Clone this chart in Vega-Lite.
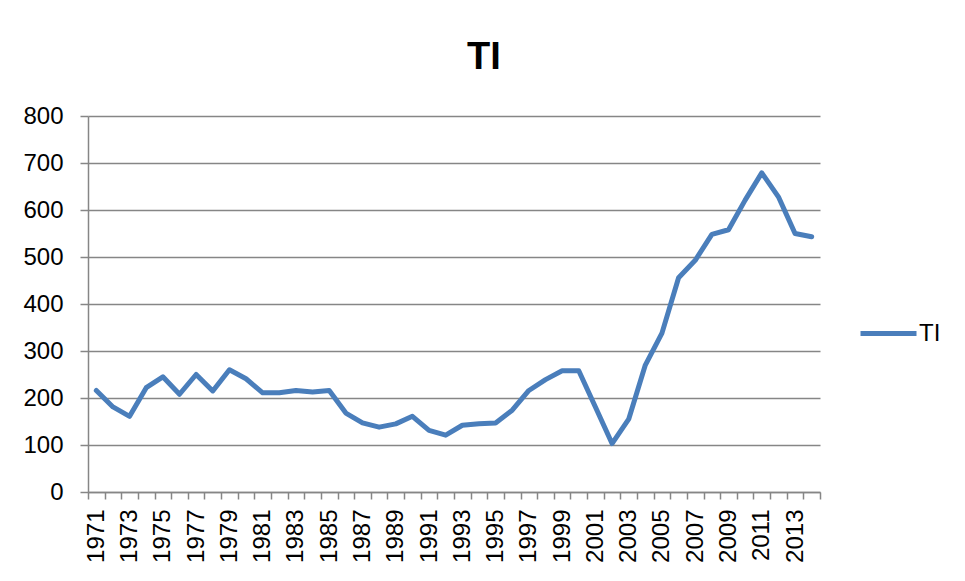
{
  "$schema": "https://vega.github.io/schema/vega-lite/v6.json",
  "width": 732,
  "height": 376,
  "autosize": {"type": "none"},
  "padding": {"left": 88, "top": 116, "right": 145, "bottom": 89},
  "background": "white",
  "title": {
    "text": "TI",
    "font": "Liberation Sans",
    "fontSize": 38,
    "fontWeight": "bold",
    "color": "#000000",
    "anchor": "middle",
    "dx": 30,
    "offset": -11,
    "baseline": "bottom"
  },
  "config": {
    "view": {"stroke": null},
    "axis": {
      "labelFont": "Liberation Sans",
      "labelFontSize": 24,
      "labelColor": "#000000",
      "domainColor": "#868686",
      "tickColor": "#868686",
      "gridColor": "#868686",
      "domainWidth": 1.5,
      "tickWidth": 1.5,
      "gridWidth": 1.5
    }
  },
  "data": {
    "values": [
      {"year": 1971, "value": 216, "series": "TI"},
      {"year": 1972, "value": 181, "series": "TI"},
      {"year": 1973, "value": 161, "series": "TI"},
      {"year": 1974, "value": 222, "series": "TI"},
      {"year": 1975, "value": 245, "series": "TI"},
      {"year": 1976, "value": 208, "series": "TI"},
      {"year": 1977, "value": 250, "series": "TI"},
      {"year": 1978, "value": 215, "series": "TI"},
      {"year": 1979, "value": 260, "series": "TI"},
      {"year": 1980, "value": 241, "series": "TI"},
      {"year": 1981, "value": 211, "series": "TI"},
      {"year": 1982, "value": 211, "series": "TI"},
      {"year": 1983, "value": 216, "series": "TI"},
      {"year": 1984, "value": 213, "series": "TI"},
      {"year": 1985, "value": 216, "series": "TI"},
      {"year": 1986, "value": 168, "series": "TI"},
      {"year": 1987, "value": 147, "series": "TI"},
      {"year": 1988, "value": 138, "series": "TI"},
      {"year": 1989, "value": 145, "series": "TI"},
      {"year": 1990, "value": 161, "series": "TI"},
      {"year": 1991, "value": 131, "series": "TI"},
      {"year": 1992, "value": 121, "series": "TI"},
      {"year": 1993, "value": 142, "series": "TI"},
      {"year": 1994, "value": 145, "series": "TI"},
      {"year": 1995, "value": 147, "series": "TI"},
      {"year": 1996, "value": 174, "series": "TI"},
      {"year": 1997, "value": 216, "series": "TI"},
      {"year": 1998, "value": 239, "series": "TI"},
      {"year": 1999, "value": 258, "series": "TI"},
      {"year": 2000, "value": 258, "series": "TI"},
      {"year": 2001, "value": 181, "series": "TI"},
      {"year": 2002, "value": 103, "series": "TI"},
      {"year": 2003, "value": 155, "series": "TI"},
      {"year": 2004, "value": 270, "series": "TI"},
      {"year": 2005, "value": 338, "series": "TI"},
      {"year": 2006, "value": 456, "series": "TI"},
      {"year": 2007, "value": 493, "series": "TI"},
      {"year": 2008, "value": 548, "series": "TI"},
      {"year": 2009, "value": 558, "series": "TI"},
      {"year": 2010, "value": 621, "series": "TI"},
      {"year": 2011, "value": 679, "series": "TI"},
      {"year": 2012, "value": 628, "series": "TI"},
      {"year": 2013, "value": 550, "series": "TI"},
      {"year": 2014, "value": 543, "series": "TI"}
    ]
  },
  "mark": {"type": "line", "strokeWidth": 5, "strokeJoin": "round", "strokeCap": "round"},
  "encoding": {
    "x": {
      "field": "year",
      "type": "ordinal",
      "scale": {"type": "band", "paddingInner": 0, "paddingOuter": 0},
      "axis": {
        "title": null,
        "labelAngle": 270,
        "labelAlign": "right",
        "labelBaseline": "middle",
        "labelOverlap": false,
        "labelExpr": "datum.value % 2 == 1 ? datum.label : ''",
        "tickBand": "extent",
        "tickSize": 7,
        "labelPadding": 10,
        "grid": false
      }
    },
    "y": {
      "field": "value",
      "type": "quantitative",
      "scale": {"domain": [0, 800], "nice": false},
      "axis": {
        "title": null,
        "values": [0, 100, 200, 300, 400, 500, 600, 700, 800],
        "tickSize": 8,
        "labelPadding": 17,
        "grid": true
      }
    },
    "color": {
      "field": "series",
      "type": "nominal",
      "scale": {"range": ["#4a7ebb"]},
      "legend": {
        "title": null,
        "orient": "none",
        "legendX": 770,
        "legendY": 187,
        "symbolType": "stroke",
        "symbolSize": 3136,
        "symbolStrokeWidth": 5,
        "labelFont": "Liberation Sans",
        "labelFontSize": 24,
        "labelColor": "#000000",
        "labelOffset": 0
      }
    }
  }
}
